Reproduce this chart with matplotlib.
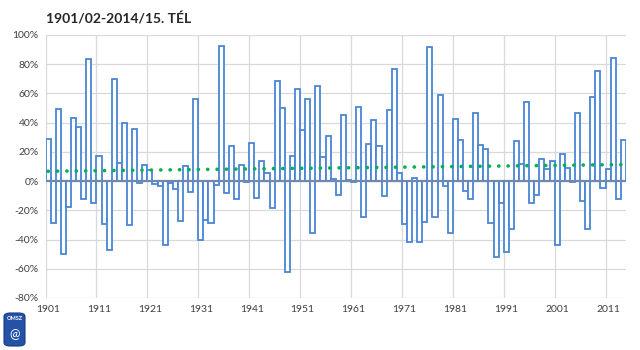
import numpy as np
import matplotlib
matplotlib.use("Agg")
import matplotlib.pyplot as plt
from matplotlib.patches import FancyBboxPatch

plt.rcParams['font.family'] = ['Lato', 'DejaVu Sans']

# winter precipitation anomaly (%), winters 1901/02 .. 2014/15
years = list(range(1901, 2015))
values = [
    28.8, -28.8, 49.4, -49.7, -17.5, 43.1, 36.7, -12.5, 83.9, -14.7,
    17.5, -29.3, -47.2, 69.6, 12.5, 39.7, -30.2, 35.8, -1.2, 11.3,
    7.5, -2.3, -3.6, -43.5, -1.4, -5.7, -27.2, 10.2, -7.3, 56.0,
    -40.4, -26.3, -28.6, -2.7, 92.5, -8.2, 23.8, -12.0, 11.3, -0.5,
    26.1, -11.3, 14.1, 5.7, -18.1, 68.5, 49.7, -62.4, 17.5, 62.8,
    35.1, 56.0, -35.6, 65.0, 16.6, 30.6, 1.1, -9.8, 45.4, 1.0,
    -0.5, 50.6, -24.3, 25.6, 41.5, 23.8, -10.2, 48.8, 76.9, 5.4,
    -29.5, -41.5, 2.3, -41.9, -28.3, 91.8, -24.3, 59.0, -3.4, -35.8,
    42.6, 27.9, -6.8, -12.5, 46.9, 24.5, 22.0, -28.8, -52.2, -14.7,
    -48.3, -32.9, 27.7, 11.8, 54.2, -14.7, -9.5, 15.4, 8.6, 13.6,
    -43.5, 18.6, 9.1, -0.5, 46.3, -13.6, -32.9, 57.6, 75.3, -4.5,
    8.6, 84.6, -12.5, 28.3,
]
title = "1901/02-2014/15. TÉL"
yticks = [-80, -60, -40, -20, 0, 20, 40, 60, 80, 100]

x = np.arange(len(values))
vals = np.array(values)

fig = plt.figure(figsize=(6.4, 3.5), dpi=100)
ax = fig.add_axes([0.0711, 0.1486, 0.9069, 0.7514])

# grid
for t in yticks:
    ax.axhline(t, color='#d9d9d9', lw=0.9, zorder=0)
for k in range(0, len(values), 10):
    ax.axvline(k - 0.5, color='#d9d9d9', lw=0.9, zorder=0)

ax.bar(x, vals, width=1.0, facecolor='white', edgecolor='#4a86d6',
       linewidth=1.3, zorder=2)
ax.axhline(0, color='#7088ad', lw=1.6, zorder=3)

# linear trend
coef = np.polyfit(x, vals, 1)
ax.plot(x, np.polyval(coef, x), color='#00b050', lw=2.6,
        linestyle=(0, (0.05, 2.55)), dash_capstyle='round', zorder=4)

ax.set_xlim(-0.5, len(values) - 0.5)
ax.set_ylim(-80, 100)
ax.set_yticks(yticks)
ax.set_yticklabels([f"{t}%" for t in yticks], fontsize=7.5, color='#404040')
ax.set_xticks(x[::10])
ax.set_xticklabels([str(years[i]) for i in x[::10]], fontsize=7.5, color='#404040')
ax.tick_params(length=0, pad=5)
for s in ax.spines.values():
    s.set_visible(False)

fig.text(46 / 640, 1 - 24 / 350, title, fontsize=10, fontweight='bold',
         color='#262626', ha='left', va='baseline')

# small OMSZ badge
badge = FancyBboxPatch((4 / 640, 4 / 350), 21 / 640, 33 / 350,
                       boxstyle="round,pad=0,rounding_size=0.01",
                       transform=fig.transFigure, facecolor='#2452a6',
                       edgecolor='#1a3d80', lw=0.8)
fig.patches.append(badge)
fig.text(14.5 / 640, 31 / 350, "OMSZ", fontsize=4, fontweight='bold',
         color='white', ha='center', va='center')
fig.text(14.5 / 640, 16 / 350, "@", fontsize=9, color='white',
         ha='center', va='center')

fig.savefig("out.png", dpi=100)
